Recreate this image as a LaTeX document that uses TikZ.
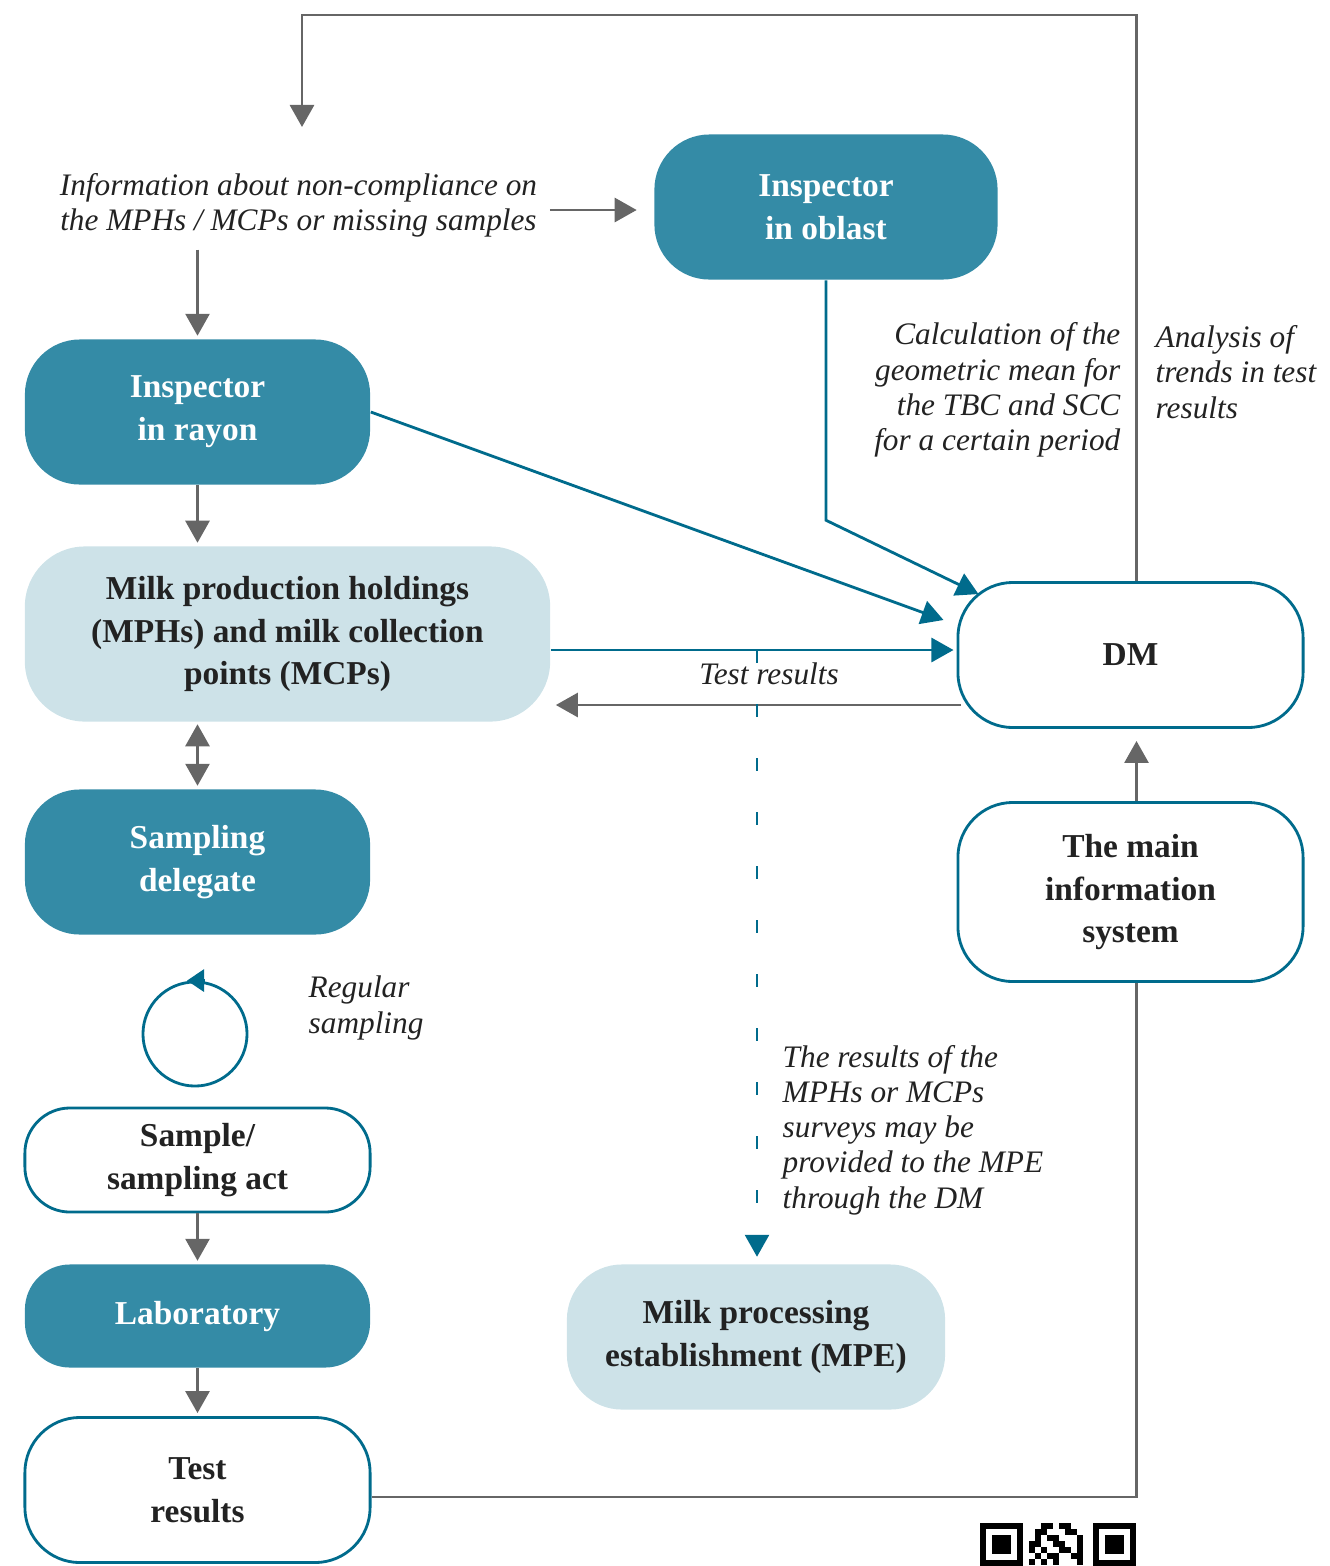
\documentclass[tikz,border=0pt]{standalone}
\usepackage{fontspec}
\setmainfont{Liberation Serif}
\usepackage{tikz}
\usetikzlibrary{calc,positioning,arrows.meta}

\definecolor{boxdark}{HTML}{348BA6}
\definecolor{boxlight}{HTML}{CDE2E8}
\definecolor{lineteal}{HTML}{006B8C}
\definecolor{linegray}{HTML}{666666}
\definecolor{txtdark}{HTML}{222222}

\newcommand{\boxfont}{\fontsize{9.5}{12.2}\selectfont\bfseries}
\newcommand{\notefont}{\fontsize{8.9}{10}\selectfont\itshape}

\tikzset{
    basebox/.style={rounded corners=0.55cm,align=center,font=\boxfont,
        minimum width=3.45cm,minimum height=1.45cm,inner sep=2pt},
    darkbox/.style={basebox,fill=boxdark,text=white},
    lightbox/.style={basebox,fill=boxlight,text=txtdark},
    whitebox/.style={basebox,draw=lineteal,line width=0.8pt,fill=white,text=txtdark},
    note/.style={font=\notefont,text=txtdark,inner sep=0pt},
    grayline/.style={draw=linegray,line width=0.8pt},
    grayarrow/.style={grayline,-{Triangle[length=0.22cm,width=0.24cm]},shorten >=0.03cm},
    tealarrow/.style={draw=lineteal,line width=0.8pt,-{Triangle[length=0.22cm,width=0.24cm]}},
    tealdash/.style={tealarrow,dash pattern=on 0.13cm off 0.41cm}
}

\begin{document}
\begin{tikzpicture}[x=0.01cm,y=-0.01cm]
    \useasboundingbox (0,0) rectangle (1329,1566);

    % boxes
    \node[darkbox,minimum width=3.43cm] (oblast) at (826,207) {Inspector\\in oblast};
    \node[darkbox] (rayon) at (197.5,412) {Inspector\\in rayon};
    \node[lightbox,minimum width=5.25cm,minimum height=1.75cm,rounded corners=0.6cm] (mph) at (287.5,634)
        {Milk production holdings\\(MPHs) and milk collection\\points (MCPs)};
    \node[darkbox] (delegate) at (197.5,862) {Sampling\\delegate};
    \node[whitebox,minimum height=1.04cm,rounded corners=0.45cm] (act) at (197.5,1160) {Sample/\\sampling act};
    \node[darkbox,minimum height=1.03cm,rounded corners=0.45cm] (lab) at (197.5,1316) {Laboratory};
    \node[whitebox] (results) at (197.5,1490) {Test\\results};
    \node[lightbox,minimum width=3.78cm] (mpe) at (756,1337) {Milk processing\\establishment (MPE)};
    \node[whitebox] (dm) at (1130.5,655) {DM};
    \node[whitebox,minimum height=1.79cm] (mis) at (1130.5,892) {The main\\information\\system};
    \node[circle,draw=lineteal,line width=0.8pt,minimum size=1.04cm,inner sep=0pt] (regloop) at (195,1034) {};

    % texts
    \node[note,align=center,inner sep=0.12cm] (info) at (298.5,205)
        {Information about non-compliance on\\the MPHs / MCPs or missing samples};
    \node[note,align=right,anchor=east] (calc) at (1121,390)
        {Calculation of the\\geometric mean for\\the TBC and SCC\\for a certain period};
    \node[note,align=left,anchor=west] (trends) at (1155,372)
        {Analysis of\\trends in test\\results};
    \node[note] (testlbl) at (769,674) {Test results};
    \node[note,align=left,anchor=west] (regular) at (308,1008) {Regular\\sampling};
    \node[note,align=left,anchor=west] (survey) at (782,1130)
        {The results of the\\MPHs or MCPs\\surveys may be\\provided to the MPE\\through the DM};

    % helper points
    \coordinate (topleft) at (302,15);
    \coordinate (loopend) at (302,130);
    \coordinate (upper) at (0,650);
    \coordinate (lower) at (961,705);
    \coordinate (dashtop) at (757,650);

    % gray flow
    \draw[grayarrow] ([yshift=-0.05cm]info.east) -- ([yshift=-0.05cm]info.east -| oblast.west) [shorten >=0.17cm];
    \draw[grayarrow] (info.south -| rayon.north) -- (rayon.north);
    \draw[grayarrow] (rayon.south) -- (rayon.south |- mph.north);
    \draw[grayarrow,{Triangle[length=0.22cm,width=0.24cm]}-{Triangle[length=0.22cm,width=0.24cm]},shorten <=0.02cm]
        (mph.south -| delegate.north) -- (delegate.north);
    \draw[grayarrow] (act) -- (lab);
    \draw[grayarrow] (lab) -- (results);
    \draw[grayarrow] (lower) -- (lower -| mph.east) [shorten >=0.05cm];
    \draw[grayline] ([yshift=-0.07cm]results.east) -| ([xshift=0.06cm]mis.south);
    \draw[grayarrow] ([xshift=0.06cm]mis.north) -- ([xshift=0.06cm]dm.south) [shorten >=0.12cm];
    \draw[grayarrow] ([xshift=0.06cm]dm.north) |- (topleft) -- (loopend);

    % teal flow
    \draw[tealarrow] (rayon.east) -- ($(dm.west)+(-13,-35)$);
    \draw[tealarrow] (oblast.south) -- ++(0,240) -- ($(dm.north west)+(22,13)$);
    \draw[tealarrow] (mph.east |- upper) -- (dm.west |- upper) [shorten >=0.03cm];
    \draw[tealdash] (dashtop) -- (dashtop |- mpe.north) [shorten >=0.07cm];
    \draw[tealarrow,-{Triangle[length=0.17cm,width=0.22cm]}] ([xshift=0.1cm]regloop.north) -- ([xshift=-0.08cm]regloop.north);

    % code mark
    \foreach \qx in {980,1093} {
        \fill[black] (\qx,1523) rectangle ++(43,43);
        \fill[white] (\qx+6,1529) rectangle ++(31,31);
        \fill[black] (\qx+12,1535) rectangle ++(19,19);
    }
    \foreach \cx/\cy in {2/0,3/0,5/0,6/0,1/1,2/1,6/1,7/1,1/2,3/2,4/2,8/2,0/3,1/3,4/3,5/3,8/3,0/4,2/4,5/4,6/4,8/4,1/5,3/5,4/5,7/5,8/5,0/6,2/6,4/6,8/6}
        \fill[black] (1029+6*\cx,1523+6*\cy) rectangle ++(6,6);
\end{tikzpicture}
\end{document}
